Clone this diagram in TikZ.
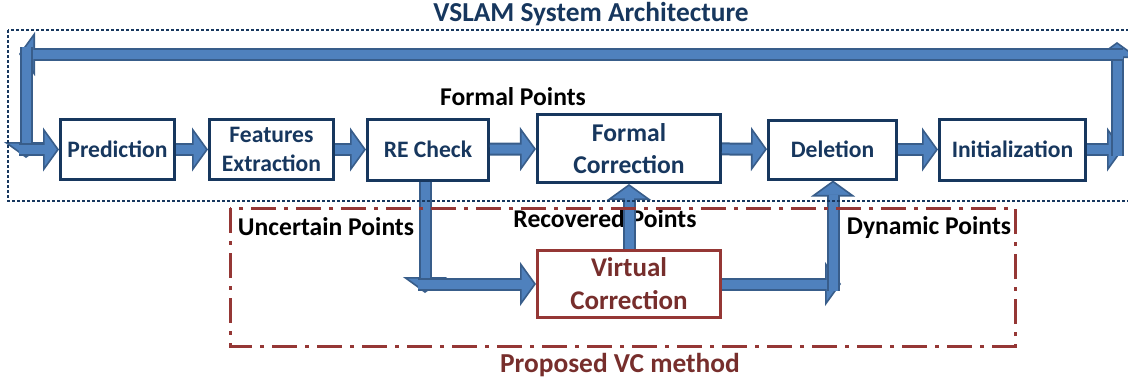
\documentclass[tikz,border=0pt]{standalone}
\usepackage{fontspec}
\setmainfont{Carlito}
\usetikzlibrary{arrows.meta}
\definecolor{boxnavy}{HTML}{17375E}
\definecolor{flowblue}{HTML}{4F81BD}
\definecolor{flowedge}{HTML}{385D8A}
\definecolor{vcred}{HTML}{953735}
\definecolor{vctext}{HTML}{772E2C}
\tikzset{
  blk/.style={draw=boxnavy,line width=1.5pt,fill=white,text=boxnavy,align=center,inner sep=1pt,
    font=\fontsize{11.8}{14.5}\selectfont\bfseries},
  vcblk/.style={blk,draw=vcred,text=vctext,font=\fontsize{13.5}{16.5}\selectfont\bfseries},
  lbl/.style={font=\fontsize{12.8}{15}\selectfont\bfseries},
  ttl/.style={font=\fontsize{13.7}{16}\selectfont\bfseries,text=boxnavy},
  flow/.style={draw=flowedge,line width=6.5pt,-{Triangle[length=8pt,width=22pt,line width=0.8pt,fill=flowblue]},
    postaction={draw=flowblue,line width=4.5pt,arrows={-},shorten >=7pt}},
  archframe/.style={draw=boxnavy,line width=1.2pt,dash pattern=on 1.5pt off 1pt},
  vcframe/.style={draw=vcred,line width=1.5pt,dash pattern=on 12.5pt off 4pt on 2pt off 4pt},
}
\begin{document}
\begin{tikzpicture}[x=0.5pt,y=-0.5pt]
\useasboundingbox (0,0) rectangle (1128,381);
% main chain
\node[blk,minimum width=57pt,minimum height=30pt] (pred) at (117.5,149.5) {Prediction};
\node[blk,minimum width=62pt,minimum height=30pt] (feat) at (271.5,149.5) {Features\\Extraction};
\node[blk,minimum width=60.5pt,minimum height=30.5pt] (rechk) at (428,149.5) {RE Check};
\node[blk,minimum width=91.5pt,minimum height=34pt,font=\fontsize{12.8}{16}\selectfont\bfseries] (formal) at (629,148.5) {Formal\\Correction};
\node[blk,minimum width=64pt,minimum height=29.5pt] (del) at (832.5,149.5) {Deletion};
\node[blk,minimum width=73pt,minimum height=30.5pt] (init) at (1012.5,149.5) {Initialization};
\node[vcblk,minimum width=91.5pt,minimum height=33.5pt] (virt) at (629,284) {Virtual\\Correction};
% labels
\node[ttl] (archttl) at (591,14) {VSLAM System Architecture};
\node[ttl,text=vctext] (vcttl) at (620,365) {Proposed VC method};
\node[lbl] (fpts) at (513,97) {Formal Points};
\node[lbl] (upts) at (326,227) {Uncertain Points};
\node[lbl] (rpts) at (605,219) {Recovered Points};
\node[lbl] (dpts) at (929,228) {Dynamic Points};
% corners of the flow
\coordinate (c1) at (1123,149.5);
\coordinate (rb) at (1117,156);
\coordinate (rt) at (1117,42);
\coordinate (tr) at (1123,54);
\coordinate (tl) at (19,54);
\coordinate (lt) at (26,47);
\coordinate (lb) at (26,158);
\coordinate (lin) at (19,149.5);
\coordinate (rd) at (425,293);
\coordinate (rc) at (418,284);
\coordinate (vc) at (841,284);
\coordinate (vf) at (833,291);
\foreach \a/\b in {pred/feat,feat/rechk,rechk/formal,formal/del,del/init} {
  \draw[flow] (\a) -- (\b);
}
% feedback loop
\draw[flow] (init) -- (c1);
\draw[flow] (rb) -- (rt);
\draw[flow] (tr) -- (tl);
\draw[flow] (lt) -- (lb);
\draw[flow] (lin) -- (pred);
% VC branch
\draw[flow] (rd |- rechk.south) -- (rd);
\draw[flow] (rc) -- (virt);
\draw[flow] (virt) -- (formal);
\draw[flow] (virt) -- (vc);
\draw[flow] (vf) -- (vf |- del.south);
% frames
\draw[archframe] (8,30) rectangle (1140,201);
\draw[vcframe] (230,208) rectangle (1015,346);
\end{tikzpicture}
\end{document}
